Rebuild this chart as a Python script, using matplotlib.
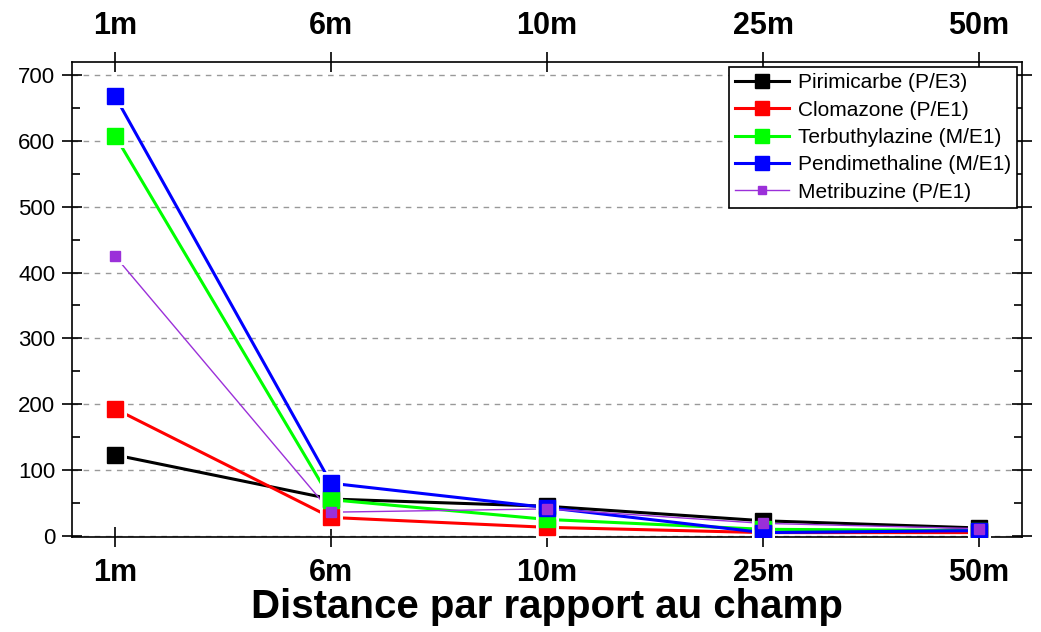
import numpy as np
import matplotlib.pyplot as plt
from matplotlib.ticker import MultipleLocator

# Distances from the field
distances = ["1m", "6m", "10m", "25m", "50m"]

# Concentrations
pirimicarbe = [123, 56, 45, 23, 12]
clomazone = [193, 28, 13, 5, 5]
terbuthylazine = [608, 55, 25, 10, 8]
pendimethaline = [668, 80, 43, 5, 8]
metribuzine = [425, 36, 41, 19, 11]

series = [
    ("Pirimicarbe (P/E3)", pirimicarbe, "black", 2.2, 12),
    ("Clomazone (P/E1)", clomazone, "#FF0000", 2.2, 12),
    ("Terbuthylazine (M/E1)", terbuthylazine, "#00FF00", 2.2, 12),
    ("Pendimethaline (M/E1)", pendimethaline, "#0000FF", 2.2, 12),
    ("Metribuzine (P/E1)", metribuzine, "#9B30D9", 1.0, 6.5),
]

plt.rcParams["font.family"] = ["Liberation Sans", "DejaVu Sans"]

fig = plt.figure(figsize=(10.41, 6.32), dpi=100)
ax = fig.add_axes([0.069, 0.150, 0.913, 0.752])

x = np.arange(len(distances))
for label, vals, col, lw, ms in series:
    ax.plot(x, vals, color=col, lw=lw, zorder=2)
    # white halo so the lines stop short of the markers
    ax.plot(x, vals, ls="none", marker="s", ms=ms, mfc="white", mec="white",
            mew=5, zorder=3)
    ax.plot(x, vals, ls="none", marker="s", ms=ms, color=col, zorder=4)
    # legend proxy
    ax.plot([], [], color=col, lw=lw, marker="s", ms=ms * 0.85, label=label)

ax.set_xlim(-0.2, 4.2)
ax.set_ylim(-2, 720)
ax.yaxis.set_major_locator(MultipleLocator(100))
ax.yaxis.set_minor_locator(MultipleLocator(50))
ax.grid(axis="y", ls=(0, (4, 4)), color="#999999", lw=1)
ax.set_axisbelow(True)

ax.set_xticks(x)
ax.set_xticklabels(distances, fontsize=22, fontweight="bold")
ax.tick_params(axis="x", which="major", direction="inout", length=14, width=1.2,
               top=True, labeltop=True, pad=8)
ax.tick_params(axis="y", which="major", direction="inout", length=14, width=1.2,
               right=True, labelsize=16, pad=5)
ax.tick_params(axis="y", which="minor", direction="in", length=6, width=1.2,
               right=True)
for sp in ax.spines.values():
    sp.set_linewidth(1.2)

ax.set_xlabel("Distance par rapport au champ", fontsize=29, fontweight="bold",
              labelpad=0)

leg = ax.legend(loc="upper right", fontsize=15, frameon=True, fancybox=False,
                edgecolor="black", framealpha=1, borderaxespad=0.25,
                handlelength=2.6, handletextpad=0.4, labelspacing=0.4,
                borderpad=0.3)
leg.get_frame().set_linewidth(1.2)

fig.savefig("out.png", dpi=100)
